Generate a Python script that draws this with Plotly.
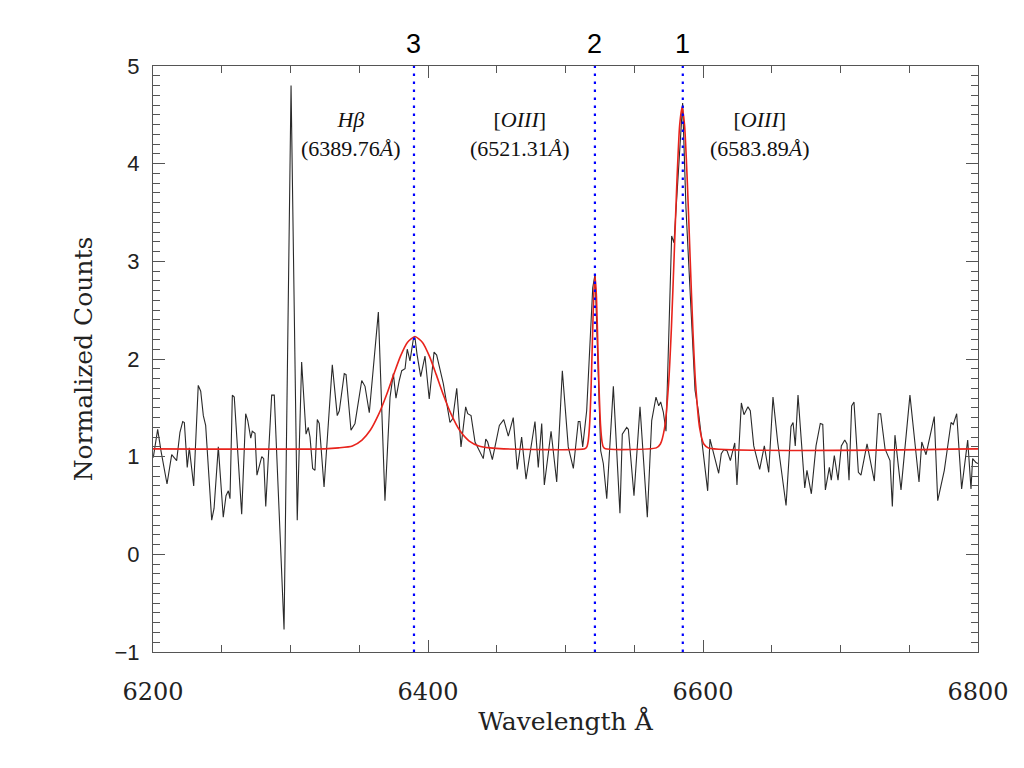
import plotly.graph_objects as go

# observed spectrum (wavelength in Angstrom, normalized counts)
wavelength = [
    6200.2, 6203.4, 6205.8, 6210.2, 6213.6, 6217.2, 6219.6, 6221.6, 6222.8, 6224.9,
    6226.4, 6229.6, 6232.9, 6234.7, 6236.6, 6238.3, 6242.7, 6244.4, 6247.5, 6251.1,
    6253.1, 6254.8, 6256.0, 6257.7, 6259.1, 6264.5, 6267.4, 6268.9, 6271.1, 6272.2,
    6274.2, 6275.6, 6279.1, 6280.5, 6282.0, 6286.3, 6288.2, 6295.3, 6300.4, 6304.9,
    6308.1, 6311.3, 6312.9, 6314.2, 6316.1, 6317.8, 6319.5, 6320.9, 6324.4, 6330.4,
    6334.0, 6335.5, 6339.1, 6340.4, 6344.0, 6346.9, 6351.8, 6354.2, 6357.3, 6363.9,
    6368.7, 6372.4, 6374.8, 6376.7, 6379.1, 6380.9, 6383.3, 6384.9, 6386.9, 6388.1,
    6389.3, 6390.5, 6392.0, 6394.7, 6397.8, 6400.9, 6404.4, 6406.3, 6411.1, 6416.0,
    6418.0, 6420.9, 6424.0, 6427.4, 6428.9, 6431.3, 6434.2, 6440.2, 6442.0, 6443.4,
    6446.8, 6451.9, 6455.1, 6458.4, 6462.0, 6464.9, 6468.1, 6471.3, 6477.8, 6480.2,
    6482.7, 6484.6, 6489.5, 6493.6, 6497.7, 6502.0, 6505.7, 6509.3, 6510.5, 6512.5,
    6515.4, 6519.8, 6521.5, 6525.6, 6527.5, 6530.0, 6534.8, 6539.6, 6541.3, 6544.5,
    6545.7, 6549.8, 6554.2, 6559.5, 6562.7, 6565.8, 6567.8, 6569.2, 6571.1, 6573.1,
    6577.2, 6578.9, 6585.2, 6587.6, 6590.5, 6594.2, 6596.6, 6600.2, 6603.4, 6605.1,
    6606.5, 6608.5, 6611.4, 6613.3, 6615.1, 6617.5, 6619.9, 6623.1, 6624.7, 6627.9,
    6629.8, 6632.7, 6634.4, 6636.9, 6641.2, 6644.6, 6647.8, 6650.9, 6654.3, 6660.4,
    6664.0, 6665.5, 6667.1, 6669.1, 6674.0, 6675.6, 6678.8, 6682.2, 6685.3, 6687.1,
    6689.0, 6691.9, 6693.3, 6695.5, 6698.2, 6700.6, 6703.1, 6704.7, 6706.2, 6708.1,
    6709.8, 6713.0, 6714.9, 6719.3, 6724.6, 6727.5, 6729.2, 6732.4, 6736.0, 6737.7,
    6739.6, 6744.0, 6750.5, 6757.1, 6759.1, 6762.2, 6763.9, 6768.2, 6770.7, 6775.5,
    6780.4, 6782.0, 6784.5, 6788.1, 6792.5, 6794.9, 6796.1, 6798.5, 6800.0,
]
counts = [
    0.99, 1.28, 1.06, 0.72, 1.02, 0.96, 1.25, 1.36, 1.35, 0.89,
    1.09, 0.70, 1.73, 1.67, 1.42, 1.32, 0.35, 0.47, 1.10, 0.38,
    0.60, 0.65, 0.57, 1.63, 1.61, 0.41, 1.44, 1.37, 1.19, 1.26,
    1.24, 0.81, 1.00, 0.98, 0.49, 1.63, 1.63, -0.77, 4.80, 0.35,
    1.97, 1.23, 1.30, 1.20, 0.88, 0.86, 1.38, 1.34, 0.69, 1.94,
    1.42, 1.47, 1.85, 1.84, 1.27, 1.34, 1.78, 1.72, 1.45, 2.48,
    0.55, 1.61, 1.85, 1.60, 1.78, 1.88, 1.90, 2.10, 1.98, 2.07,
    2.20, 2.22, 2.05, 1.82, 2.03, 1.59, 2.07, 2.04, 1.75, 1.35,
    1.39, 1.70, 1.10, 1.51, 1.44, 1.42, 1.15, 0.98, 1.18, 1.15,
    0.97, 1.32, 1.38, 1.21, 1.40, 0.87, 1.20, 0.77, 1.36, 0.89,
    1.34, 0.71, 1.26, 0.74, 1.88, 1.10, 0.88, 1.36, 1.36, 1.10,
    1.47, 2.73, 2.87, 1.06, 0.93, 0.57, 1.72, 0.42, 1.23, 1.30,
    1.28, 0.60, 1.51, 0.38, 1.37, 1.61, 1.52, 1.56, 1.46, 1.26,
    3.26, 3.19, 4.62, 3.55, 2.77, 1.68, 1.47, 1.06, 0.65, 1.18,
    1.10, 1.01, 0.83, 1.03, 1.07, 1.06, 0.96, 1.14, 0.71, 1.55,
    1.43, 1.51, 1.47, 1.11, 0.87, 1.11, 0.84, 1.61, 1.15, 0.50,
    1.31, 1.35, 1.11, 1.63, 0.68, 0.86, 0.62, 1.11, 1.34, 1.33,
    0.66, 0.89, 0.76, 1.01, 0.76, 1.11, 1.17, 1.13, 0.76, 1.52,
    1.56, 0.84, 0.81, 1.13, 0.75, 1.44, 1.44, 1.08, 0.96, 0.49,
    1.22, 0.66, 1.63, 0.74, 1.15, 1.02, 1.13, 1.41, 0.55, 0.86,
    1.35, 1.33, 1.44, 0.67, 1.17, 0.67, 0.98, 0.94, 0.93,
]

# fitted model (red)
fit_wavelength = [
    6200, 6325, 6335, 6345, 6352, 6358, 6364, 6370, 6375, 6380, 6385, 6390.5,
    6396, 6401, 6406, 6411, 6417, 6423, 6430, 6437, 6445, 6455,
    6514, 6515.5, 6516.5, 6517.5, 6518.5, 6519.5, 6520.5, 6521.5,
    6522.5, 6523.5, 6524.5, 6525.5, 6526.5, 6527.5, 6529,
    6566, 6569, 6572, 6575, 6577, 6579, 6581, 6583, 6584.8,
    6586.6, 6588.6, 6590.6, 6592.6, 6594.6, 6597.6, 6600.6, 6604, 6800,
]
fit_counts = [
    1.08, 1.08, 1.09, 1.11, 1.17, 1.27, 1.43, 1.64, 1.84, 2.03, 2.17, 2.23,
    2.17, 2.03, 1.84, 1.64, 1.43, 1.27, 1.16, 1.11, 1.09, 1.08,
    1.08, 1.10, 1.16, 1.32, 1.66, 2.15, 2.64, 2.85,
    2.64, 2.15, 1.66, 1.32, 1.16, 1.10, 1.08,
    1.09, 1.13, 1.29, 1.75, 2.31, 3.05, 3.81, 4.39, 4.58,
    4.39, 3.81, 3.05, 2.31, 1.75, 1.29, 1.13, 1.09, 1.08,
]

# line markers
line_positions = [6389.8, 6521.4, 6585.3]
line_numbers = ["3", "2", "1"]
label_x = [6344, 6467, 6641.5]
label_text = [
    "<i>Hβ</i><br>(6389.76<i>Å</i>)",
    "[<i>OIII</i>]<br>(6521.31<i>Å</i>)",
    "[<i>OIII</i>]<br>(6583.89<i>Å</i>)",
]

fig = go.Figure()

fig.add_trace(go.Scatter(
    x=wavelength, y=counts, mode="lines",
    line=dict(color="#2a2a2a", width=1.1),
    showlegend=False,
))
fig.add_trace(go.Scatter(
    x=fit_wavelength, y=fit_counts, mode="lines",
    line=dict(color="#e8231c", width=1.6, shape="spline", smoothing=0.6),
    showlegend=False,
))

for pos, num in zip(line_positions, line_numbers):
    fig.add_vline(x=pos, line=dict(color="#0000ff", width=2.2, dash="2.5px,5.5px"))
    fig.add_annotation(
        x=pos, y=1.0375, xref="x", yref="paper", text=num, showarrow=False,
        font=dict(family="Liberation Sans", size=27, color="#000000"),
        yanchor="middle",
    )

for lx, txt in zip(label_x, label_text):
    fig.add_annotation(
        x=lx, y=4.3, text=txt, showarrow=False,
        font=dict(family="Liberation Serif", size=22, color="#111111"),
        align="center", yanchor="middle",
    )

axis_col = "#555555"
fig.update_xaxes(
    range=[6200, 6800], dtick=200, ticks="inside", ticklen=12, tickcolor=axis_col,
    showline=True, linecolor=axis_col, linewidth=1, mirror="ticks",
    showgrid=False, zeroline=False,
    minor=dict(dtick=50, ticks="inside", ticklen=7, tickcolor=axis_col, showgrid=False),
    tickfont=dict(family="DejaVu Serif", size=24, color="#222222"),
    ticklabelstandoff=18,
    title=dict(text="Wavelength Å", standoff=7,
               font=dict(family="DejaVu Serif", size=25, color="#222222")),
)
fig.update_yaxes(
    range=[-1, 5], dtick=1, ticks="inside", ticklen=12, tickcolor=axis_col,
    showline=True, linecolor=axis_col, linewidth=1, mirror="ticks",
    showgrid=False, zeroline=False,
    minor=dict(dtick=0.1, ticks="inside", ticklen=7, tickcolor=axis_col, showgrid=False),
    tickfont=dict(family="Liberation Sans", size=22, color="#222222"),
    ticklabelstandoff=8,
    title=dict(text="Normalized Counts", standoff=14,
               font=dict(family="DejaVu Serif", size=25, color="#222222")),
)

fig.update_layout(
    width=1024, height=768,
    margin=dict(l=145, r=54, t=58, b=124),
    paper_bgcolor="white", plot_bgcolor="white",
)

fig.write_html("out.html")
